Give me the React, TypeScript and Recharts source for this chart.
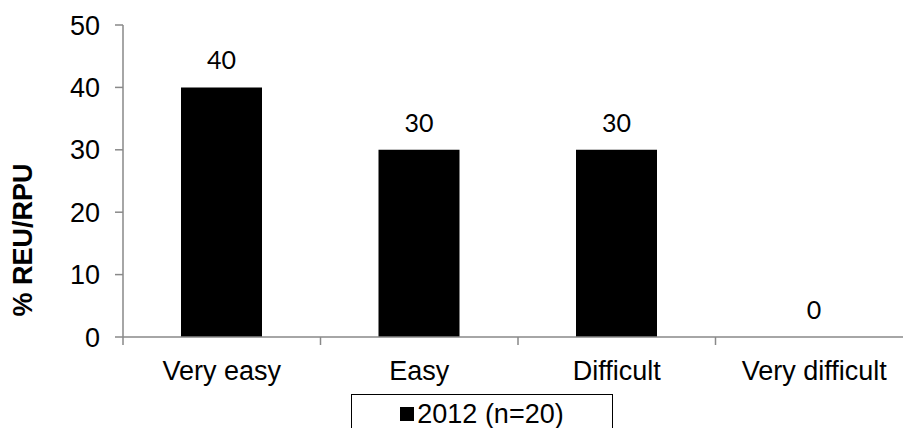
import React from 'react';
import { BarChart, Bar, XAxis, YAxis, Legend, LabelList, Label } from 'recharts';

const categories = ['Very easy', 'Easy', 'Difficult', 'Very difficult'];
const values2012 = [40, 30, 30, 0];
const yTicks = [0, 10, 20, 30, 40, 50];
const edgeTicks = [0, 1, 2, 3, 4];
const seriesName = '2012 (n=20)';

const data = categories.map((name, i) => ({ name, pos: i + 0.5, v: values2012[i] }));

const AXIS = '#898989';
const FONT = '"Liberation Sans", Arial, sans-serif';

const YTitle = (props: any) => {
  const vb = props.viewBox || {};
  const cx = 23;
  const cy = vb.y + vb.height / 2 + 59;
  return (
    <text
      x={cx}
      y={cy}
      transform={`rotate(-90 ${cx} ${cy})`}
      textAnchor="middle"
      dominantBaseline="central"
      fontFamily={FONT}
      fontWeight="bold"
      fontSize={27}
      fill="#000"
    >
      % REU/RPU
    </text>
  );
};

const LegendBox = () => (
  <div
    style={{
      fontFamily: FONT,
      fontSize: 27,
      color: '#000',
      display: 'flex',
      alignItems: 'center',
      justifyContent: 'center',
      height: '100%',
      paddingBottom: 6,
      boxSizing: 'border-box',
    }}
  >
    <span style={{ display: 'inline-block', width: 14, height: 14, background: '#000', marginRight: 3 }} />
    <span>{seriesName}</span>
  </div>
);

export default function App() {
  return (
    <div style={{ position: 'fixed', left: 0, top: 0, width: 903, height: 428, overflow: 'hidden', background: '#fff' }}>
      <BarChart width={940} height={428} data={data} margin={{ top: 25, right: 27, left: 0, bottom: 41 }}>
        <XAxis
          xAxisId="a_edge"
          dataKey="pos"
          type="number"
          domain={[0, 4]}
          allowDataOverflow
          ticks={edgeTicks}
          height={1}
          tickSize={8}
          tickFormatter={() => ''}
          axisLine={{ stroke: AXIS, strokeWidth: 1.5 }}
          tickLine={{ stroke: AXIS, strokeWidth: 1.5 }}
        />
        <XAxis
          xAxisId="b_cat"
          dataKey="name"
          height={49}
          axisLine={false}
          tickLine={false}
          tickSize={0}
          tickMargin={23}
          interval={0}
          tick={{ fill: '#000', fontSize: 27, fontFamily: FONT }}
        />
        <YAxis
          domain={[0, 50]}
          ticks={yTicks}
          width={123}
          tickSize={8}
          tickMargin={15}
          axisLine={{ stroke: AXIS, strokeWidth: 1.5 }}
          tickLine={{ stroke: AXIS, strokeWidth: 1.5 }}
          tick={{ fill: '#000', fontSize: 27, fontFamily: FONT }}
        >
          <Label content={<YTitle />} />
        </YAxis>
        <Legend
          layout="vertical"
          align="center"
          verticalAlign="middle"
          content={<LegendBox />}
          wrapperStyle={{
            left: 351,
            top: 394,
            width: 262,
            height: 46,
            border: '1.5px solid #000',
            boxSizing: 'border-box',
            background: '#fff',
          }}
        />
        <Bar
          xAxisId="b_cat"
          dataKey="v"
          name={seriesName}
          fill="#000"
          barSize={81}
          minPointSize={0.001}
          isAnimationActive={false}
        >
          <LabelList
            dataKey="v"
            position="top"
            offset={18}
            fill="#000"
            fontSize={25}
            fontFamily="Lato, 'Open Sans', sans-serif"
          />
        </Bar>
      </BarChart>
    </div>
  );
}
